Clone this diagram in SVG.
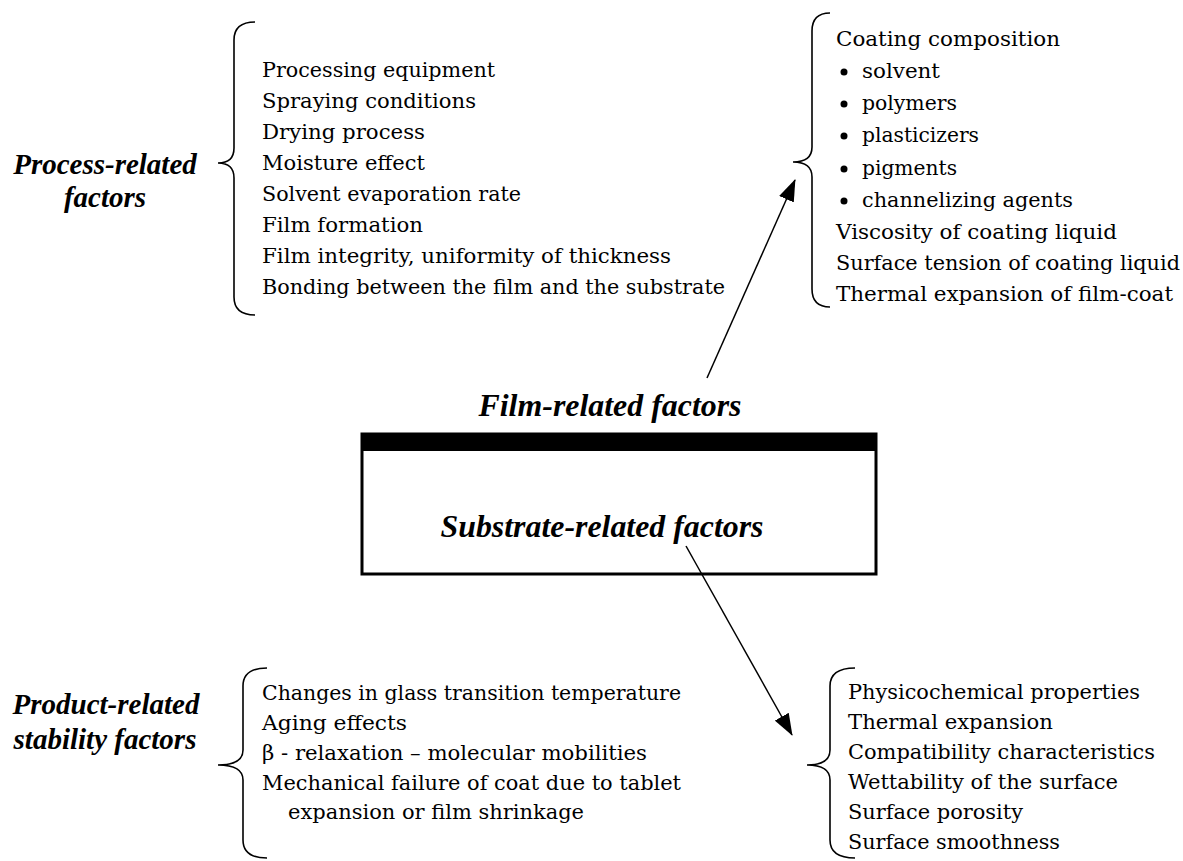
<svg xmlns="http://www.w3.org/2000/svg" width="1183" height="861" viewBox="0 0 1183 861">
<style>
.t{font-family:"DejaVu Serif","Liberation Serif",serif;font-size:20px;fill:#000}
.h{font-family:"Liberation Serif","Times New Roman",serif;font-size:29px;font-weight:bold;font-style:italic;fill:#000;text-anchor:middle}
.hc{font-family:"Liberation Serif","Times New Roman",serif;font-size:32px;font-weight:bold;font-style:italic;fill:#000;text-anchor:middle}
.br{fill:none;stroke:#000;stroke-width:1.6}
.ln{fill:none;stroke:#000;stroke-width:1.5}
</style>
<defs>
<marker id="ah" markerUnits="userSpaceOnUse" markerWidth="22" markerHeight="16" refX="21" refY="8" orient="auto">
<path d="M0,0 L22,8 L0,16 z" fill="#000"/>
</marker>
</defs>
<rect width="1183" height="861" fill="#fff"/>

<g id="process">
<text class="h" x="105" y="174">Process-related</text>
<text class="h" x="105" y="207">factors</text>
<path class="br" d="M255,22 Q234,22 234,40 L234,148 Q234,163 218,163 Q234,163 234,178 L234,297 Q234,315 255,315"/>
<text class="t" x="262" y="77" textLength="233" lengthAdjust="spacingAndGlyphs">Processing equipment</text>
<text class="t" x="262" y="108" textLength="214" lengthAdjust="spacingAndGlyphs">Spraying conditions</text>
<text class="t" x="262" y="139" textLength="163" lengthAdjust="spacingAndGlyphs">Drying process</text>
<text class="t" x="262" y="170" textLength="163" lengthAdjust="spacingAndGlyphs">Moisture effect</text>
<text class="t" x="262" y="201" textLength="259" lengthAdjust="spacingAndGlyphs">Solvent evaporation rate</text>
<text class="t" x="262" y="232" textLength="161" lengthAdjust="spacingAndGlyphs">Film formation</text>
<text class="t" x="262" y="263" textLength="409" lengthAdjust="spacingAndGlyphs">Film integrity, uniformity of thickness</text>
<text class="t" x="262" y="294" textLength="463" lengthAdjust="spacingAndGlyphs">Bonding between the film and the substrate</text>
</g>

<g id="film">
<path class="br" d="M830,13 Q812,13 812,31 L812,147 Q812,162 793,162 Q812,162 812,177 L812,289 Q812,307 830,307"/>
<text class="t" x="836" y="46" textLength="224" lengthAdjust="spacingAndGlyphs">Coating composition</text>
<circle cx="844" cy="72" r="3.5"/>
<text class="t" x="862" y="78" textLength="78" lengthAdjust="spacingAndGlyphs">solvent</text>
<circle cx="844" cy="104" r="3.5"/>
<text class="t" x="862" y="110" textLength="95" lengthAdjust="spacingAndGlyphs">polymers</text>
<circle cx="844" cy="136" r="3.5"/>
<text class="t" x="862" y="142" textLength="117" lengthAdjust="spacingAndGlyphs">plasticizers</text>
<circle cx="844" cy="169" r="3.5"/>
<text class="t" x="862" y="175" textLength="95" lengthAdjust="spacingAndGlyphs">pigments</text>
<circle cx="844" cy="201" r="3.5"/>
<text class="t" x="862" y="207" textLength="211" lengthAdjust="spacingAndGlyphs">channelizing agents</text>
<text class="t" x="836" y="239" textLength="281" lengthAdjust="spacingAndGlyphs">Viscosity of coating liquid</text>
<text class="t" x="836" y="270" textLength="344" lengthAdjust="spacingAndGlyphs">Surface tension of coating liquid</text>
<text class="t" x="836" y="301" textLength="337" lengthAdjust="spacingAndGlyphs">Thermal expansion of film-coat</text>
</g>

<g id="tablet">
<text class="hc" x="610" y="416" textLength="263" lengthAdjust="spacingAndGlyphs">Film-related factors</text>
<rect x="362" y="434" width="514" height="140" fill="#fff" stroke="#000" stroke-width="3"/>
<rect x="362" y="434" width="514" height="17" fill="#000"/>
<text class="hc" x="602" y="537" textLength="323" lengthAdjust="spacingAndGlyphs">Substrate-related factors</text>
</g>

<g id="product">
<text class="h" x="106" y="714">Product-related</text>
<text class="h" x="105" y="749">stability factors</text>
<path class="br" d="M267,668 Q243,668 243,686 L243,750 Q243,765 218,765 Q243,765 243,780 L243,840 Q243,858 267,858"/>
<text class="t" x="262" y="700" textLength="419" lengthAdjust="spacingAndGlyphs">Changes in glass transition temperature</text>
<text class="t" x="262" y="730" textLength="145" lengthAdjust="spacingAndGlyphs">Aging effects</text>
<text class="t" x="262" y="760" textLength="385" lengthAdjust="spacingAndGlyphs">β - relaxation – molecular mobilities</text>
<text class="t" x="262" y="790" textLength="419" lengthAdjust="spacingAndGlyphs">Mechanical failure of coat due to tablet</text>
<text class="t" x="288" y="819" textLength="296" lengthAdjust="spacingAndGlyphs">expansion or film shrinkage</text>
</g>

<g id="substrate">
<path class="br" d="M855,668 Q830,668 830,686 L830,750 Q830,765 807,765 Q830,765 830,780 L830,840 Q830,858 855,858"/>
<text class="t" x="848" y="699" textLength="292" lengthAdjust="spacingAndGlyphs">Physicochemical properties</text>
<text class="t" x="848" y="729" textLength="205" lengthAdjust="spacingAndGlyphs">Thermal expansion</text>
<text class="t" x="848" y="759" textLength="307" lengthAdjust="spacingAndGlyphs">Compatibility characteristics</text>
<text class="t" x="848" y="789" textLength="270" lengthAdjust="spacingAndGlyphs">Wettability of the surface</text>
<text class="t" x="848" y="819" textLength="175" lengthAdjust="spacingAndGlyphs">Surface porosity</text>
<text class="t" x="848" y="849" textLength="212" lengthAdjust="spacingAndGlyphs">Surface smoothness</text>
</g>

<g id="connectors">
<line class="ln" x1="707" y1="378" x2="795" y2="180" marker-end="url(#ah)"/>
<line class="ln" x1="686" y1="546" x2="792" y2="735" marker-end="url(#ah)"/>
</g>
</svg>
